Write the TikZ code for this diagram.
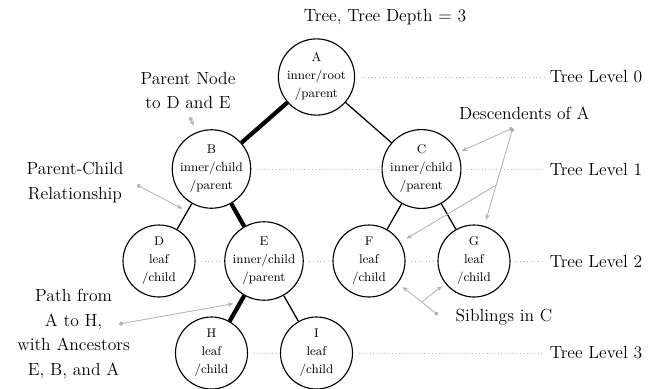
\documentclass[tikz,border=0pt]{standalone}
\usepackage{tikz}
\usetikzlibrary{positioning}
\usetikzlibrary{arrows.meta, calc}

\tikzset{
    vertex/.style={circle, draw, line width=0.8pt, minimum size=1.8cm, inner sep=0pt,
                   align=center, font=\fontsize{9}{12.8}\selectfont},
    branch/.style={line width=0.9pt},
    pathbranch/.style={line width=3pt},
    levelline/.style={dotted, gray!60, line width=0.6pt, shorten <=4pt, shorten >=2pt},
    levellabel/.style={font=\fontsize{12.5}{17.5}\selectfont, inner sep=2pt},
    remark/.style={font=\fontsize{12.5}{17.5}\selectfont, align=center},
    pointer/.style={gray!60, line width=0.6pt, -{Stealth[length=4pt, width=3.2pt]}},
    dotpointer/.style={pointer, {Circle[length=3pt]}-{Stealth[length=4pt, width=3.2pt]}},
}

\begin{document}
\begin{tikzpicture}[on grid]
        \useasboundingbox (0,0) rectangle (16.275,-9.725);

        % the tree
        \node[vertex] (A) at (7.9125,-1.925) {A\\inner/root\\/parent};
        \node[vertex, below left=2.3cm and 2.625cm of A]  (B) {B\\inner/child\\/parent};
        \node[vertex, below right=2.3cm and 2.625cm of A] (C) {C\\inner/child\\/parent};
        \node[vertex, below left=2.3cm and 1.3125cm of B]  (D) {D\\leaf\\/child};
        \node[vertex, below right=2.3cm and 1.3125cm of B] (E) {E\\inner/child\\/parent};
        \node[vertex, below left=2.3cm and 1.3125cm of C]  (F) {F\\leaf\\/child};
        \node[vertex, below right=2.3cm and 1.3125cm of C] (G) {G\\leaf\\/child};
        \node[vertex, below left=2.3cm and 1.3125cm of E]  (H) {H\\leaf\\/child};
        \node[vertex, below right=2.3cm and 1.3125cm of E] (I) {I\\leaf\\/child};

        \draw[pathbranch] (A) -- (B);
        \draw[pathbranch] (B) -- (E);
        \draw[pathbranch] (E) -- (H);
        \draw[branch] (A) -- (C);
        \draw[branch] (B) -- (D);
        \draw[branch] (C) -- (F);
        \draw[branch] (C) -- (G);
        \draw[branch] (E) -- (I);

        % levels
        \node[levellabel] (L0) at (14.9,-1.925) {Tree Level 0};
        \node[levellabel, below=2.3cm of L0] (L1) {Tree Level 1};
        \node[levellabel, below=2.3cm of L1] (L2) {Tree Level 2};
        \node[levellabel, below=2.3cm of L2] (L3) {Tree Level 3};

        \draw[levelline] (A) -- (L0);
        \draw[levelline] (B) -- (C);
        \draw[levelline] (C) -- (L1);
        \draw[levelline] (D) -- (E);
        \draw[levelline] (E) -- (F);
        \draw[levelline] (F) -- (G);
        \draw[levelline] (G) -- (L2);
        \draw[levelline] (H) -- (I);
        \draw[levelline] (I) -- (L3);

        \node[remark] (title) at (9.625,-0.425) {Tree, Tree Depth = 3};

        % remarks
        \node[remark] (parentnode) at (4.7,-2.2625) {Parent Node\\to D and E};
        \node[remark] (relation) at (1.875,-4.5625) {Parent-Child\\Relationship};
        \node[remark] (pathnote) at (1.84,-8.35) {Path from\\A to H,\\with Ancestors\\E, B, and A};
        \node[remark] (descnote) at (13.11,-2.825) {Descendents of A};
        \node[remark] (sibnote) at (12.6,-7.925) {Siblings in C};

        \coordinate (pn)   at (4.75,-2.925);
        \coordinate (pc)   at (3.425,-4.625);
        \coordinate (pa)   at (2.975,-8.1);
        \coordinate (desc) at (12.82,-3.2);
        \coordinate (sib)  at (10.95,-7.875);
        \coordinate (sj)   at (10.5425,-7.55);
        \coordinate (dj)   at ($(desc)!0.43!(G)$);

        \draw[dotpointer, shorten >=5pt] (pn) -- (B);
        \draw[dotpointer, shorten >=4pt] (pc) -- ($(B)!0.46!(D)$);
        \draw[dotpointer, shorten >=5pt] (pa) -- ($(E)!0.45!(H)$);
        \draw[dotpointer, shorten >=3pt] (desc) -- (C);
        \draw[dotpointer, shorten >=4.5pt] (desc) -- (G);
        \draw[pointer, shorten >=5pt] (dj) -- (F);
        \draw[gray!60, line width=0.6pt, {Circle[length=3pt]}-] (sib) -- (sj);
        \draw[pointer, shorten >=4pt] (sj) -- (F);
        \draw[pointer, shorten >=3pt] (sj) -- (G);
\end{tikzpicture}
\end{document}
